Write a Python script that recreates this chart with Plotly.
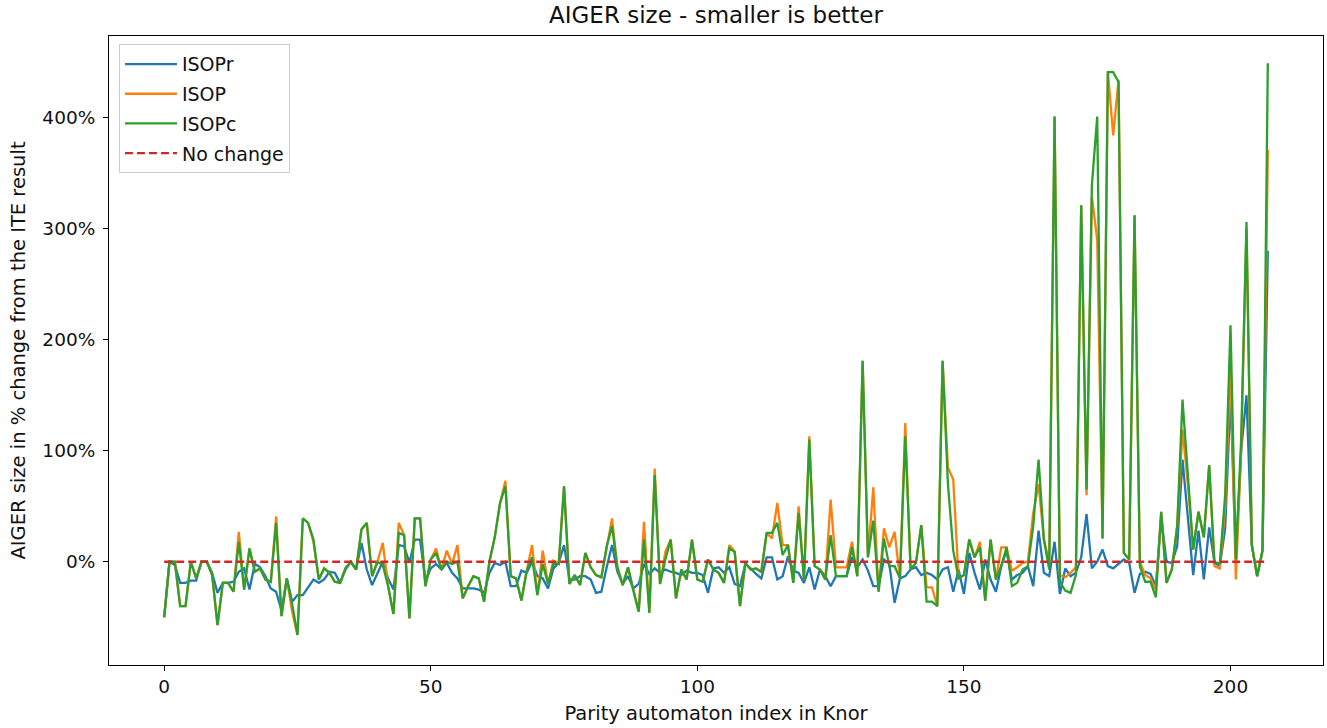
import plotly.graph_objects as go

index = list(range(208))

isopc = [
    -50, 0, 0, -40, -40, 0, -15, 0, 0, -12,
    -57, -19, -19, -27, 18, -25, 12, -9, -6, -16,
    -18, 35, -49, -15, -38, -66, 39, 35, 20, -16,
    -6, -10, -18, -19, -6, 0, -7, 29, 35, -13,
    0, -3, -22, -47, 26, 24, -51, 39, 39, -22,
    2, 8, -7, 0, -2, 0, -33, -22, -13, -15,
    -36, 0, 22, 53, 68, -13, -15, -35, -8, 4,
    -30, -2, -20, -2, -2, 68, -20, -12, -21, 8,
    -5, -12, -14, 14, 32, -5, -21, -5, -26, -45,
    20, -46, 78, -20, 2, 20, -33, -7, -16, 20,
    -16, -18, 2, -7, -10, -19, 12, 9, -40, -1,
    -7, -6, -9, 26, 26, 35, 6, 15, -19, 44,
    -16, 110, -4, -7, -16, 24, -13, -13, -13, 13,
    -13, 181, 4, 37, -27, 21, -4, -4, -15, 113,
    -7, -1, 33, -36, -36, -40, 181, 70, 10, -15,
    -12, 20, 4, 13, -35, 20, -16, -4, 13, -22,
    -19, -7, -4, 32, 92, 20, -7, 401, -18, -26,
    -28, -12, 321, 65, 339, 401, 21, 441, 441, 432,
    8, 2, 312, -4, -18, -18, -32, 45, -19, -7,
    32, 146, 80, 11, 45, 22, 87, -1, -1, 60,
    213, 2, 110, 306, 15, -13, 10, 449,
]

isop_diff = {
    14: 27, 21: 41, 24: -45, 28: 18, 41: 17, 44: 35, 51: 12, 53: 10, 55: 15,
    64: 73, 69: 15, 71: 10, 73: 1, 84: 39, 90: 36, 92: 84, 94: 9, 106: 15,
    114: 21, 115: 53, 116: 15, 119: 50, 121: 113, 125: 56, 126: -5, 127: -5,
    128: -5, 129: 18, 133: 67, 135: 30, 136: 13, 137: 27, 139: 125, 143: -23,
    144: -23, 147: 85, 148: 74, 153: 18, 157: 13, 159: -8, 160: -5, 161: -1,
    162: 0, 163: 44, 164: 70, 166: 0, 168: -12, 169: -14, 170: -10, 171: -5,
    173: 60, 174: 329, 175: 290, 178: 384, 179: 434, 183: 0, 184: -12,
    185: -15, 186: -25, 191: 119, 192: 70, 197: -4, 198: -6, 199: 50,
    200: 175, 201: -16, 202: 100, 203: 300, 207: 371,
}
isop = [isop_diff.get(i, v) for i, v in enumerate(isopc)]

isopr = [
    -50, 0, -3, -19, -19, -17, -17, 0, 0, -10,
    -28, -19, -19, -18, -9, -6, -25, -2, -5, -13,
    -24, -27, -44, -15, -36, -30, -30, -23, -16, -19,
    -16, -9, -10, -19, -7, 0, -7, 17, -7, -21,
    -10, 0, -15, -25, 15, 14, -1, 20, 20, -18,
    -6, -2, -7, -1, -10, -15, -24, -24, -24, -25,
    -28, -10, -1, -3, 0, -22, -22, -8, -10, 0,
    -13, -15, -24, -6, -1, 15, -16, -16, -13, -13,
    -16, -28, -27, -5, 15, -9, -20, -13, -24, -20,
    -2, -11, -6, -10, -7, -9, -10, -12, -8, -10,
    -10, -12, -28, -6, -5, -10, -5, -20, -22, -2,
    -6, -11, -15, 4, 4, -16, -13, 5, -8, -10,
    -19, -5, -25, -7, -13, -22, -13, -13, -13, 4,
    -5, 2, -8, -22, -22, 2, -2, -37, -15, -13,
    -7, -5, -12, -10, -12, -16, -7, -5, -27, -7,
    -29, 8, -10, -25, 2, -16, -27, -4, 10, -16,
    -12, -10, -4, -22, 28, -10, -13, 18, -29, -6,
    -13, -10, 4, 43, -6, 0, 11, -4, -6, -2,
    2, -1, -28, -11, -9, -11, -22, 40, 0, -1,
    14, 92, 40, -12, 28, -16, 31, -1, -4, 30,
    150, 5, 100, 150, 15, -13, 10, 280,
]

no_change = [0] * len(index)

x_ticks = [0, 50, 100, 150, 200]
y_ticks = [0, 100, 200, 300, 400]
y_tick_labels = [f"{v}%" for v in y_ticks]

FONT = "DejaVu Sans"
TXT = "#111111"

fig = go.Figure()
series = [
    ("ISOPr", isopr, "#1f77b4", "solid"),
    ("ISOP", isop, "#ff7f0e", "solid"),
    ("ISOPc", isopc, "#2ca02c", "solid"),
    ("No change", no_change, "#d62728", "8px,4px"),
]
for name, vals, color, dash in series:
    fig.add_trace(go.Scatter(
        x=index, y=vals, mode="lines", name=name, legendgroup=name,
        line=dict(color=color, width=2.3, dash=dash),
    ))

axis_common = dict(
    showline=True, linecolor="black", linewidth=1.1, mirror=True,
    ticks="outside", ticklen=5, tickwidth=1.1, tickcolor="black",
    showgrid=False, zeroline=False, automargin=False,
    tickfont=dict(family=FONT, size=18.5, color=TXT),
)

fig.update_layout(
    width=1327, height=728,
    margin=dict(l=109, r=4, t=36, b=63, autoexpand=False),
    paper_bgcolor="white", plot_bgcolor="white",
    font=dict(family=FONT, color=TXT),
    title=dict(text="AIGER size - smaller is better", x=0.5, xanchor="center",
               xref="paper", y=1 - 15 / 728, yref="container", yanchor="middle",
               font=dict(family=FONT, size=23, color=TXT)),
    xaxis=dict(range=[-10.35, 217.35], tickvals=x_ticks,
               title=dict(text="Parity automaton index in Knor", standoff=10,
                          font=dict(family=FONT, size=19.5, color=TXT)),
               **axis_common),
    yaxis=dict(range=[-93, 473.5], tickvals=y_ticks, ticktext=y_tick_labels,
               ticklabelstandoff=4,
               title=dict(text="AIGER size in % change from the ITE result", standoff=11,
                          font=dict(family=FONT, size=19.5, color=TXT)),
               **axis_common),
    legend=dict(x=0.0082, y=0.987, xanchor="left", yanchor="top",
                bgcolor="rgba(255,255,255,0.8)", bordercolor="#cccccc", borderwidth=1,
                font=dict(family=FONT, size=19, color=TXT),
                itemwidth=52, traceorder="grouped", tracegroupgap=2),
    showlegend=True,
)

fig.write_html("out.html", config={"displayModeBar": False},
               post_script="document.body.style.margin='0';")
